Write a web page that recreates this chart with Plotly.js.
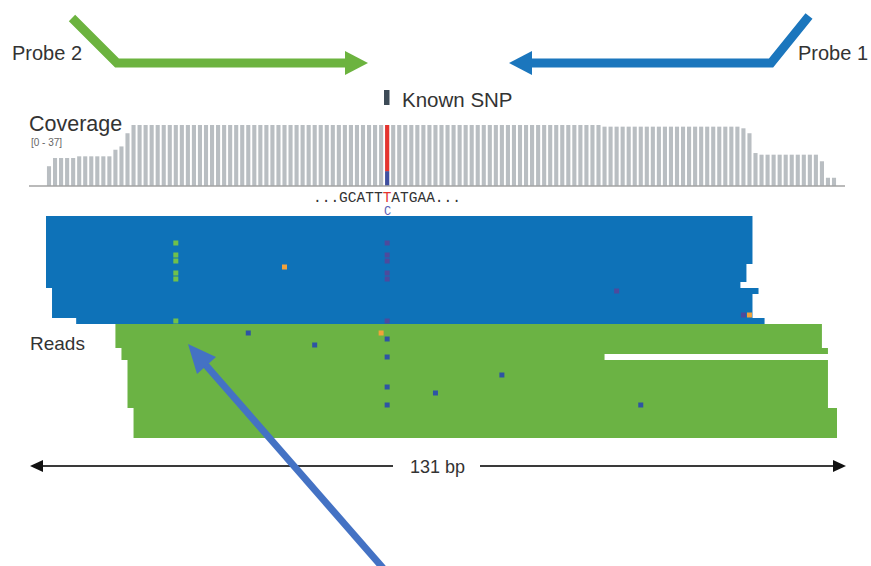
<!DOCTYPE html>
<html><head><meta charset="utf-8">
<script src="https://cdn.plot.ly/plotly-3.0.1.min.js"></script>
<style>html,body{margin:0;padding:0;background:#fff;overflow:hidden}</style>
</head><body><div id="chart" style="width:871px;height:566px"></div>
<script>
// ---- data ----
const positions = [];
for (let i = 0; i <= 130; i++) positions.push(i);   // 131 bp window

const coverage = [
  12, 17, 17, 17, 17, 18, 18, 18, 18, 18, 18, 22, 24, 32,
  37, 37, 37, 37, 37, 37, 37, 37, 37, 37, 37, 37, 37, 37, 37, 37, 37, 37, 37, 37,
  37, 37, 37, 37, 37, 37, 37, 37, 37, 37, 37, 37, 37, 37, 37, 37, 37, 37, 37, 37,
  37, 37, 37, 37, 37, 37, 37, 37, 37, 37, 37, 37, 37, 37, 37, 37, 37, 37, 37, 37,
  37, 37, 37, 37, 37, 37, 37, 37, 37, 37, 37, 37, 37, 37, 37, 37, 37, 37,
  36, 36, 36, 36, 36, 36, 36, 36, 36, 36, 36, 36, 36, 36, 36, 36, 36, 36, 36, 36, 36, 36, 36,
  35, 32, 20,
  19, 19, 19, 19, 19, 19, 19, 19, 19, 19,
  15, 5, 5
];
const coverageMax = 37;

const snpPos = 56;
const snpAlleles = ['C', 'T'];
const snpCounts = [9, 28];

const readRow    = [0,1,2,3,4,5,6,7,8,9,10,11,12,13,14,15,16,17,18,19,20,21,22,23,24,25,26,27,28,29,30,31,32,33,34,35,36];
const readStart  = [0,0,0,0,0,0,0,0,0,0,0,0,1,1,1,1,1,5,11,11,11,11,12,12,13,13,13,13,13,13,13,13,14,14,14,14,14];
const readEnd    = [116,116,116,116,116,116,116,116,115,115,115,114,117,116,116,116,116,118,127,127,127,127,128,91,128,128,128,128,128,128,128,128,130,130,130,130,130];
const readStrand = ['-','-','-','-','-','-','-','-','-','-','-','-','-','-','-','-','-','-',
                    '+','+','+','+','+','+','+','+','+','+','+','+','+','+','+','+','+','+','+'];

const mmPos  = [56,56,56,56,56,56,56,56,56,56, 21,21,21,21,21,21, 39,55,33,44,64,98,75,94,115,116];
const mmRow  = [4,6,7,9,10,17,20,23,28,31,     4,6,7,9,10,17,     8,19,19,21,29,31,26,12,16,16];
const mmBase = ['C','C','C','C','C','C','C','C','C','C','A','A','A','A','A','A','G','G','C','C','C','C','C','C','C','G'];

const refLeft = '...GCATT', refSnp = 'T', refRight = 'ATGAA...';
const altBase = 'C';
const spanLabel = '131 bp';

// ---- styles ----
const W = 871, H = 566;
const px = x => x / W, py = y => 1 - y / H;
const READ_COL = {'-': '#0e72b8', '+': '#6bb344'};
const READ_SHIFT = {'-': 0, '+': 0.5};   // drawing offset of the forward-read panel
const MM_COL = {
  'C-': '#4d4a9d', 'C+': '#2e54a4',
  'A-': '#70c04b', 'A+': '#70c04b',
  'G-': '#f2a23a', 'G+': '#f2a23a'
};
const ALLELE_COL = {'C': '#3f4fa0', 'T': '#e5332e'};

const traces = [];
// coverage
traces.push({
  type: 'bar', x: positions, y: coverage, xaxis: 'x', yaxis: 'y',
  width: 0.68, marker: {color: '#b9bec2', line: {width: 0}}, hoverinfo: 'skip'
});
// SNP allele split
let b = 0;
snpAlleles.forEach((a, k) => {
  traces.push({
    type: 'bar', x: [snpPos], y: [snpCounts[k]], base: [b], xaxis: 'x', yaxis: 'y',
    width: 0.68, marker: {color: ALLELE_COL[a], line: {width: 0}}, hoverinfo: 'skip'
  });
  b += snpCounts[k];
});
// reads
['-', '+'].forEach(s => {
  const idx = readRow.map((r, i) => i).filter(i => readStrand[i] === s);
  traces.push({
    type: 'bar', orientation: 'h', xaxis: 'x', yaxis: 'y2',
    y: idx.map(i => readRow[i]),
    x: idx.map(i => readEnd[i] - readStart[i] + 1),
    base: idx.map(i => readStart[i] - 0.5 + READ_SHIFT[s]),
    width: 1, marker: {color: READ_COL[s], line: {width: 0}}, hoverinfo: 'skip'
  });
});
// mismatches
traces.push({
  type: 'scatter', mode: 'markers', xaxis: 'x', yaxis: 'y2',
  x: mmPos, y: mmRow,
  marker: {symbol: 'square', size: 5, line: {width: 0},
           color: mmBase.map((bs, i) => MM_COL[bs + readStrand[mmRow[i]]])},
  hoverinfo: 'skip'
});

const FONT = 'Liberation Sans, Arial, sans-serif';
const txt = (text, x, y, size, extra) => Object.assign({
  text, x: px(x), y: py(y), xref: 'paper', yref: 'paper', showarrow: false,
  xanchor: 'left', yanchor: 'middle',
  font: {family: FONT, size, color: '#333'}
}, extra || {});

const annotations = [
  txt('Probe 2', 10, 53, 20),
  txt('Probe 1', 796, 53, 20),
  txt('Known SNP', 400, 99, 20.5),
  txt('Coverage', 27, 124, 21.5),
  txt('[0 - 37]', 29, 142, 10, {font: {family: FONT, size: 10, color: '#666'}}),
  txt('Reads', 28, 343, 19),
  txt(spanLabel, 437, 467, 18, {xanchor: 'center'}),
  {text: refLeft + '<span style="color:#e5332e">' + refSnp + '</span>' + refRight,
   x: snpPos, xref: 'x', y: py(197.5), yref: 'paper', showarrow: false,
   xanchor: 'center', yanchor: 'middle',
   font: {family: 'Liberation Mono, DejaVu Sans Mono, monospace', size: 14.5, color: '#333'}},
  {text: altBase, x: snpPos, xref: 'x', y: py(212), yref: 'paper', showarrow: false,
   xanchor: 'center', yanchor: 'middle',
   font: {family: 'Liberation Mono, DejaVu Sans Mono, monospace', size: 12, color: '#5b5fb5'}}
];

const P = (x, y) => px(x).toFixed(5) + ',' + py(y).toFixed(5);
const shp = [];
// probe 2 (green)
shp.push({type: 'path', xref: 'paper', yref: 'paper',
  path: 'M' + P(72, 18) + ' L' + P(117, 63) + ' L' + P(350, 63),
  line: {color: '#6cb33f', width: 9}});
shp.push({type: 'path', xref: 'paper', yref: 'paper',
  path: 'M' + P(345, 51) + ' L' + P(368, 63) + ' L' + P(345, 75) + ' Z',
  fillcolor: '#6cb33f', line: {width: 0}});
// probe 1 (blue)
shp.push({type: 'path', xref: 'paper', yref: 'paper',
  path: 'M' + P(809, 16) + ' L' + P(771, 63) + ' L' + P(528, 63),
  line: {color: '#1b76bd', width: 9}});
shp.push({type: 'path', xref: 'paper', yref: 'paper',
  path: 'M' + P(532, 51) + ' L' + P(509, 63) + ' L' + P(532, 75) + ' Z',
  fillcolor: '#1b76bd', line: {width: 0}});
// known SNP marker
shp.push({type: 'rect', xref: 'paper', yref: 'paper',
  x0: px(384), x1: px(389.5), y0: py(105), y1: py(90),
  fillcolor: '#3d4b57', line: {width: 0}});
// coverage baseline
shp.push({type: 'line', xref: 'paper', yref: 'paper',
  x0: px(29), x1: px(845), y0: py(186), y1: py(186),
  line: {color: '#a3a3a3', width: 1.5}});
// 131 bp span arrow
shp.push({type: 'line', xref: 'paper', yref: 'paper',
  x0: px(40), x1: px(393), y0: py(466), y1: py(466), line: {color: '#3a3a3a', width: 2}});
shp.push({type: 'line', xref: 'paper', yref: 'paper',
  x0: px(480), x1: px(835), y0: py(466), y1: py(466), line: {color: '#3a3a3a', width: 2}});
shp.push({type: 'path', xref: 'paper', yref: 'paper',
  path: 'M' + P(30, 466) + ' L' + P(43, 460) + ' L' + P(43, 472) + ' Z',
  fillcolor: '#111', line: {width: 0}});
shp.push({type: 'path', xref: 'paper', yref: 'paper',
  path: 'M' + P(846, 466) + ' L' + P(833, 460) + ' L' + P(833, 472) + ' Z',
  fillcolor: '#111', line: {width: 0}});
// pointer arrow
shp.push({type: 'line', xref: 'paper', yref: 'paper',
  x0: px(383), y0: py(568), x1: px(204), y1: py(363),
  line: {color: '#4472c4', width: 7}});
shp.push({type: 'path', xref: 'paper', yref: 'paper',
  path: 'M' + P(188, 344) + ' L' + P(216, 357) + ' L' + P(197, 374) + ' Z',
  fillcolor: '#4472c4', line: {width: 0}});

const layout = {
  width: W, height: H, margin: {l: 0, r: 0, t: 0, b: 0},
  paper_bgcolor: '#fff', plot_bgcolor: 'rgba(0,0,0,0)',
  showlegend: false, barmode: 'overlay',
  xaxis: {domain: [45.98 / W, 837.02 / W], range: [-0.5, 130.5], visible: false, fixedrange: true},
  yaxis: {domain: [py(186), py(125)], range: [0, coverageMax], visible: false, fixedrange: true},
  yaxis2: {domain: [py(438), py(216)], range: [36.5, -0.5], visible: false, fixedrange: true, anchor: 'x'},
  annotations, shapes: shp
};
Plotly.newPlot('chart', traces, layout, {staticPlot: true, displayModeBar: false});
</script></body></html>
